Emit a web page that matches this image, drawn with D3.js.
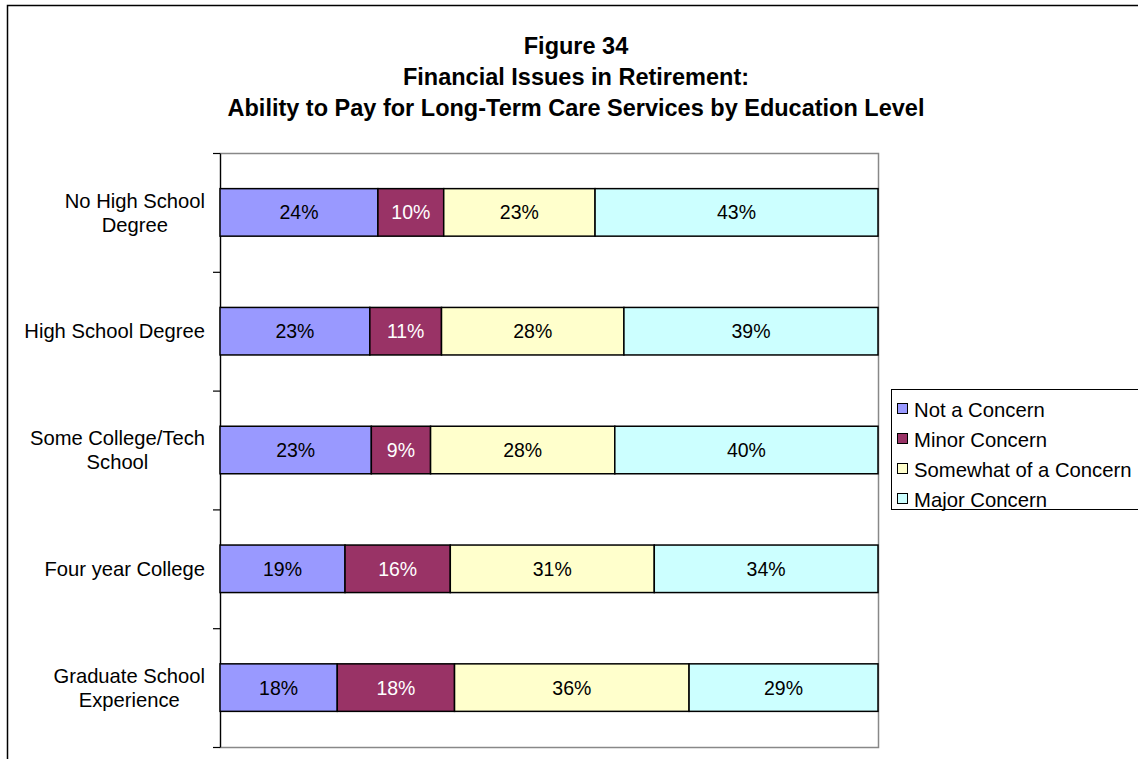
<!DOCTYPE html>
<html>
<head>
<meta charset="utf-8">
<script src="https://cdn.jsdelivr.net/npm/d3@7"></script>
<style>
  html, body { margin: 0; padding: 0; background: #fff; }
  svg { display: block; font-family: "Liberation Sans", Arial, sans-serif; }
</style>
</head>
<body>
<svg id="chart" width="1138" height="759"></svg>
<script>
// Education levels (top to bottom) and each label's lines
const categories = ["No High School Degree", "High School Degree", "Some College/Tech School", "Four year College", "Graduate School Experience"];
const categoryLines = [["No High School", "Degree"], ["High School Degree"], ["Some College/Tech", "School"], ["Four year College"], ["Graduate School", "Experience"]];

// Level of concern series and their shares (%)
const seriesNames = ["Not a Concern", "Minor Concern", "Somewhat of a Concern", "Major Concern"];
const notConcern = [24, 23, 23, 19, 18];
const minorConcern = [10, 11, 9, 16, 18];
const somewhatConcern = [23, 28, 28, 31, 36];
const majorConcern = [43, 39, 40, 34, 29];
const seriesColors = ["#9999FF", "#993366", "#FFFFCC", "#CCFFFF"];
const labelColors = ["#000", "#fff", "#000", "#000"];

const titleLines = ["Figure 34", "Financial Issues in Retirement:", "Ability to Pay for Long-Term Care Services by Education Level"];

const rows = categories.map((c, i) => ({
  category: c,
  "Not a Concern": notConcern[i],
  "Minor Concern": minorConcern[i],
  "Somewhat of a Concern": somewhatConcern[i],
  "Major Concern": majorConcern[i]
}));

const svg = d3.select("#chart");

// Outer chart frame
svg.append("rect")
  .attr("x", 7.5).attr("y", 5.5)
  .attr("width", 1200).attr("height", 800)
  .attr("fill", "none").attr("stroke", "#000").attr("stroke-width", 1.5);

// Title
svg.append("g").selectAll("text").data(titleLines).join("text")
  .attr("x", 576)
  .attr("y", (d, i) => 54 + i * 31)
  .attr("text-anchor", "middle")
  .attr("font-size", 23.5)
  .attr("font-weight", "bold")
  .text(d => d);

const plot = { left: 220, right: 878, top: 153, bottom: 747 };

const x = d3.scaleLinear().domain([0, 1]).range([plot.left, plot.right]);
const y = d3.scaleBand().domain(categories).range([plot.top, plot.bottom])
  .paddingInner(0.6).paddingOuter(0.3);

// Plot area border (grey)
svg.append("rect")
  .attr("x", plot.left + 0.5).attr("y", plot.top + 0.5)
  .attr("width", plot.right - plot.left).attr("height", plot.bottom - plot.top)
  .attr("fill", "none").attr("stroke", "#888").attr("stroke-width", 1.5);

// Category axis with ticks between bands
const tickScale = d3.scaleLinear().domain([0, categories.length]).range([plot.top, plot.bottom]);
const yAxis = svg.append("g")
  .attr("transform", `translate(${plot.left},0)`)
  .call(d3.axisLeft(tickScale).tickValues(d3.range(categories.length + 1)).tickFormat("").tickSize(7).tickSizeOuter(0));
yAxis.selectAll("path, line").attr("stroke", "#000").attr("stroke-width", 1.2);

// Stacked 100% bars
const stack = d3.stack().keys(seriesNames).offset(d3.stackOffsetExpand);
const layers = stack(rows);

const layerG = svg.append("g").selectAll("g").data(layers).join("g")
  .attr("fill", (d, i) => seriesColors[i]);

layerG.selectAll("rect").data(d => d).join("rect")
  .attr("x", d => x(d[0]))
  .attr("y", d => y(d.data.category))
  .attr("width", d => x(d[1]) - x(d[0]))
  .attr("height", y.bandwidth())
  .attr("stroke", "#000")
  .attr("stroke-width", 1.5);

// Value labels
layers.forEach((layer, si) => {
  svg.append("g").selectAll("text").data(layer).join("text")
    .attr("x", d => (x(d[0]) + x(d[1])) / 2)
    .attr("y", d => y(d.data.category) + y.bandwidth() / 2)
    .attr("dy", "0.36em")
    .attr("text-anchor", "middle")
    .attr("font-size", 19.5)
    .attr("fill", labelColors[si])
    .text(d => d.data[layer.key] + "%");
});

// Category labels, lines centred within a right-aligned block
const labelRight = 205;
const lineH = 24;
categories.forEach((c, i) => {
  const lines = categoryLines[i];
  const g = svg.append("g");
  const cy = y(c) + y.bandwidth() / 2;
  const texts = g.selectAll("text").data(lines).join("text")
    .attr("font-size", 20.2)
    .attr("dy", "0.36em")
    .attr("y", (d, j) => cy + (j - (lines.length - 1) / 2) * lineH)
    .text(d => d);
  const widths = texts.nodes().map(n => n.getComputedTextLength());
  const maxW = d3.max(widths);
  texts.attr("text-anchor", "middle").attr("x", labelRight - maxW / 2);
});

// Legend
const legend = svg.append("g");
legend.append("rect")
  .attr("x", 891.5).attr("y", 389.5)
  .attr("width", 400).attr("height", 120)
  .attr("fill", "#fff").attr("stroke", "#000").attr("stroke-width", 1);
const items = legend.selectAll("g").data(seriesNames).join("g")
  .attr("transform", (d, i) => `translate(0, ${417 + i * 30})`);
items.append("rect")
  .attr("x", 897.5).attr("y", -13.5)
  .attr("width", 10).attr("height", 10)
  .attr("fill", (d, i) => seriesColors[i])
  .attr("stroke", "#000").attr("stroke-width", 1);
items.append("text")
  .attr("x", 914).attr("y", 0)
  .attr("font-size", 20.3)
  .text(d => d);
</script>
</body>
</html>
